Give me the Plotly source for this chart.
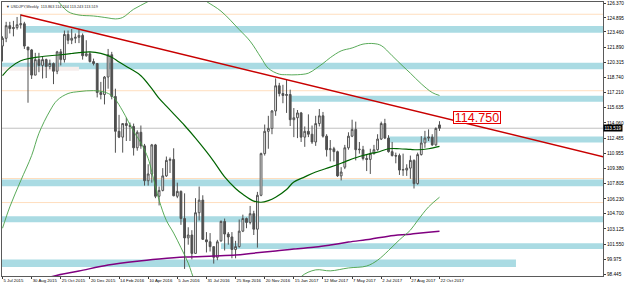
import plotly.graph_objects as go

# ---------------- data ----------------
symbol_title = "USDJPY,Weekly  113.863 114.244 113.243 113.519"

tick_bars = [0, 8, 16, 24, 32, 40, 48, 56, 64, 72, 80, 88, 96, 104, 112, 120]
tick_labels = ["5 Jul 2015", "30 Aug 2015", "25 Oct 2015", "20 Dec 2015", "14 Feb 2016",
               "10 Apr 2016", "5 Jun 2016", "31 Jul 2016", "25 Sep 2016", "20 Nov 2016",
               "15 Jan 2017", "12 Mar 2017", "7 May 2017", "2 Jul 2017", "27 Aug 2017",
               "22 Oct 2017"]

price_ticks = [126.370, 124.895, 123.460, 121.890, 120.315, 118.740, 117.210, 115.635,
               114.060, 112.485, 110.955, 109.380, 107.805, 106.230, 104.700, 103.125,
               101.550, 99.975, 98.445]

opens = [122.0, 122.8, 124.1, 123.8, 123.9, 124.2, 124.3, 121.9, 121.6, 119.0,
         120.6, 120.0, 120.6, 119.9, 120.2, 119.4, 121.4, 120.6, 123.2, 122.6,
         122.8, 122.9, 123.1, 121.0, 121.2, 120.4, 120.2, 117.2, 117.0, 118.8,
         121.1, 116.8, 113.2, 112.6, 114.0, 113.8, 113.7, 111.5, 113.1, 111.7,
         108.1, 108.8, 111.8, 106.5, 107.1, 108.6, 110.2, 110.3, 106.5, 107.0,
         104.2, 102.2, 102.5, 100.6, 104.8, 106.1, 102.0, 101.8, 101.3, 100.2,
         101.9, 103.9, 102.6, 102.3, 101.0, 101.3, 102.9, 104.2, 103.8, 104.7,
         103.1, 106.6, 110.9, 113.2, 113.5, 115.3, 117.9, 117.1, 116.9, 117.0,
         114.4, 114.6, 115.1, 112.6, 113.2, 112.9, 112.1, 114.0, 114.8, 112.7,
         111.3, 111.4, 111.1, 108.6, 109.5, 111.5, 112.7, 113.4, 111.3, 111.3,
         110.4, 110.3, 110.9, 111.3, 112.4, 114.0, 112.5, 111.1, 110.7, 110.7,
         109.2, 109.2, 109.4, 110.2, 107.8, 110.8, 112.0, 112.5, 112.6, 111.8,
         113.863]
highs = [123.0, 124.5, 124.5, 124.6, 125.0, 125.28, 124.5, 121.8, 121.7, 121.3,
         121.3, 120.9, 120.7, 120.6, 120.3, 121.5, 121.7, 123.6, 123.6, 123.76,
         123.3, 123.7, 123.3, 122.6, 121.4, 120.7, 120.2, 118.3, 118.9, 121.7,
         121.4, 117.6, 114.9, 114.0, 114.6, 114.1, 114.0, 113.3, 113.8, 111.9,
         109.8, 111.9, 111.9, 107.5, 109.4, 110.6, 110.5, 111.45, 107.9, 107.1,
         106.8, 103.3, 103.0, 106.3, 107.5, 106.6, 102.8, 102.7, 101.3, 102.0,
         104.0, 104.2, 102.8, 102.8, 101.9, 104.1, 104.6, 104.3, 105.5, 105.0,
         106.95, 111.0, 113.9, 114.8, 115.4, 118.66, 118.2, 118.0, 118.6, 117.5,
         115.6, 115.4, 115.2, 113.7, 114.95, 113.8, 114.8, 115.5, 115.2, 112.9,
         112.3, 111.6, 111.2, 109.5, 111.8, 113.1, 114.4, 114.2, 112.1, 111.7,
         110.8, 111.4, 111.8, 112.9, 114.2, 114.49, 112.8, 112.1, 111.0, 110.9,
         110.9, 109.8, 110.7, 110.3, 111.0, 112.7, 113.25, 113.4, 112.9, 113.6,
         114.244]
lows = [120.41, 122.4, 123.3, 123.0, 123.7, 123.8, 121.7, 116.15, 118.6, 119.0,
        119.3, 118.65, 118.7, 119.6, 118.07, 119.1, 120.0, 120.3, 122.2, 122.2,
        122.3, 122.3, 120.6, 120.9, 120.3, 120.0, 116.7, 116.5, 115.98, 117.6,
        116.5, 110.99, 112.5, 111.0, 112.2, 112.2, 110.7, 111.2, 111.4, 107.6,
        107.6, 107.9, 106.3, 105.55, 107.0, 108.5, 108.9, 106.5, 106.3, 103.55,
        99.0, 101.5, 99.99, 100.6, 104.0, 102.0, 100.7, 100.8, 99.55, 99.9,
        101.8, 100.9, 101.5, 100.1, 100.1, 101.2, 102.8, 103.2, 103.6, 102.5,
        101.2, 106.5, 110.7, 111.4, 112.9, 114.8, 116.8, 116.1, 115.1, 113.75,
        112.6, 112.5, 112.1, 111.6, 112.6, 111.9, 111.7, 113.7, 112.55, 110.6,
        110.1, 110.1, 108.5, 108.13, 109.3, 111.3, 112.6, 110.2, 110.9, 110.2,
        109.1, 108.8, 110.8, 111.2, 112.3, 112.4, 111.0, 110.6, 109.9, 108.7,
        108.6, 108.6, 108.3, 107.3, 107.7, 110.7, 111.5, 112.2, 111.7, 111.7,
        113.243]
closes = [122.8, 124.1, 123.8, 123.9, 124.2, 124.3, 122.0, 121.6, 119.0, 120.6,
          120.0, 120.6, 119.9, 120.2, 119.4, 121.4, 120.6, 123.2, 122.6, 122.8,
          122.9, 123.1, 121.0, 121.2, 120.4, 120.2, 117.2, 117.0, 118.8, 121.1,
          116.8, 113.2, 112.6, 114.0, 113.8, 113.7, 111.5, 113.1, 111.7, 108.1,
          108.8, 111.8, 106.5, 107.1, 108.6, 110.2, 110.3, 106.55, 107.0, 104.2,
          102.2, 102.5, 100.6, 104.8, 106.1, 102.05, 101.8, 101.3, 100.2, 101.8,
          103.9, 102.6, 102.3, 101.0, 101.3, 102.9, 104.2, 103.8, 104.7, 103.1,
          106.6, 110.9, 113.2, 113.5, 115.3, 117.9, 117.1, 116.9, 117.0, 114.4,
          114.6, 115.1, 112.6, 113.2, 112.9, 112.1, 114.0, 114.8, 112.7, 111.3,
          111.4, 111.1, 108.6, 109.0, 111.5, 112.7, 113.4, 111.3, 111.35, 110.4,
          110.3, 110.9, 111.3, 112.4, 114.0, 112.5, 111.1, 110.7, 110.65, 109.2,
          109.25, 109.4, 110.2, 107.8, 110.8, 112.0, 112.5, 112.6, 111.8, 113.5,
          113.519]
bars = list(range(len(closes)))

# Bollinger middle line
mid_bars = [0, 2, 5, 8, 10, 13, 16, 19, 21, 24, 27, 30, 32, 35, 38, 41, 43, 45, 47, 50,
            53, 56, 58, 61, 64, 66, 69, 71, 73, 75, 78, 80, 83, 86, 90, 93, 95, 98, 101,
            103, 106, 109, 112, 114, 117, 120]
mid_vals = [118.94, 119.75, 120.48, 120.76, 120.87, 121.0, 121.1, 121.23, 121.32, 121.4,
            121.25, 120.85, 120.35, 119.68, 118.94, 117.6, 116.6, 115.8, 115.0, 113.8,
            112.5, 111.1, 110.1, 108.5, 107.3, 106.7, 106.0, 105.88, 106.05, 106.4,
            107.2, 107.97, 108.5, 109.0, 109.5, 109.9, 110.2, 110.6, 110.9, 111.05,
            111.4, 111.4, 111.33, 111.3, 111.4, 111.64]

up_bars = [0, 6, 12, 15, 18, 21, 25, 29, 31, 33, 36, 40, 44, 48, 52, 56, 60, 65, 68, 71,
           73, 76, 78, 81, 84, 86, 88, 90, 93, 96, 99, 102, 104, 107, 110, 112, 115,
           118, 120]
up_vals = [131.0, 129.5, 127.6, 126.7, 125.55, 125.2, 125.1, 124.9, 124.8, 124.95,
           125.8, 126.6, 127.6, 128.2, 127.6, 126.6, 125.6, 123.7, 122.5, 120.8,
           119.7, 119.1, 119.04, 119.04, 119.2, 119.66, 120.2, 120.8, 121.5, 121.8,
           122.2, 122.25, 122.05, 121.0, 119.9, 119.2, 118.1, 117.2, 116.9]

low_bars = [0, 2, 5, 8, 10, 13, 15, 18, 21, 25, 28, 30, 31, 33, 36, 38, 40, 41, 43, 45,
            47, 49, 51, 53, 58, 66, 74, 79, 82, 86, 90, 95, 100, 103, 106, 109, 112,
            114, 117, 120]
low_vals = [103.2, 105.4, 108.1, 110.7, 113.0, 115.3, 116.4, 117.1, 117.3, 117.4,
            117.25, 116.9, 116.5, 115.3, 113.2, 112.0, 110.4, 109.0, 106.1, 104.0,
            102.7, 101.2, 99.6, 97.6, 94.8, 93.6, 94.2, 96.3, 98.2, 98.9, 98.8, 99.1,
            99.3, 99.9, 100.9, 102.0, 103.0, 104.0, 105.4, 106.4]

ma_bars = [8, 14, 21, 29, 37, 43, 50, 58, 64, 69, 75, 80, 86, 90, 95, 101, 106, 112,
           117, 120]
ma_vals = [97.6, 98.25, 98.78, 99.4, 99.8, 100.02, 100.22, 100.33, 100.43, 100.63,
           100.84, 101.05, 101.25, 101.46, 101.77, 102.07, 102.38, 102.59, 102.79, 102.9]

# trendline anchors (Aug 2015 high, Dec 2016 high), extended right
trend_bars = [5, 75]
trend_prices = [125.2, 118.8]

# horizontal zones: (low, high, start bar, end bar or None = to the plot edge)
zones = [(123.36, 124.08, 6, None),
         (119.60, 120.27, None, None),
         (116.26, 116.88, 79, None),
         (112.05, 112.67, 106, None),
         (107.52, 108.24, None, None),
         (103.82, 104.44, None, None),
         (101.05, 101.66, 60, None),
         (99.20, 99.98, None, 141)]
pale_zone = (119.45, 119.86, None, 21)
level_lines = [125.28, 117.39, 108.33, 105.85]
bid_price = 113.519
label_text = "114.750"
label_bar = 130.3
label_price = 114.62

# ---------------- figure ----------------
X_MIN, X_MAX = -0.14, 164.9
Y_MIN, Y_MAX = 98.27, 126.545
ZONE_COLOR = "rgb(170,219,227)"
LEVEL_COLOR = "rgb(255,222,190)"

fig = go.Figure()

shapes = []
for lo, hi, b0, b1 in zones:
    shapes.append(dict(type="rect", layer="below", line_width=0, fillcolor=ZONE_COLOR,
                       xref="x", yref="y",
                       x0=X_MIN - 5 if b0 is None else b0,
                       x1=X_MAX + 5 if b1 is None else b1,
                       y0=lo, y1=hi))
lo, hi, b0, b1 = pale_zone
shapes.append(dict(type="rect", layer="below", line_width=0, fillcolor="rgb(246,238,236)",
                   xref="x", yref="y", x0=X_MIN - 5, x1=b1, y0=lo, y1=hi))
for lv in level_lines:
    shapes.append(dict(type="line", layer="below", xref="paper", yref="y", x0=0, x1=1,
                       y0=lv, y1=lv, line=dict(color=LEVEL_COLOR, width=1)))
shapes.append(dict(type="line", layer="below", xref="paper", yref="y", x0=0, x1=1,
                   y0=bid_price, y1=bid_price, line=dict(color="rgb(192,192,192)", width=1)))

# trendline extended to the right edge of the plot
slope = (trend_prices[1] - trend_prices[0]) / (trend_bars[1] - trend_bars[0])
t_end = trend_prices[0] + slope * (X_MAX + 2 - trend_bars[0])

fig.add_trace(go.Scatter(x=ma_bars, y=ma_vals, mode="lines", line=dict(color="rgb(128,0,128)", width=1.5),
                         line_shape="spline", hoverinfo="skip", showlegend=False))
fig.add_trace(go.Scatter(x=up_bars, y=up_vals, mode="lines", line=dict(color="rgb(70,160,70)", width=0.9),
                         line_shape="spline", hoverinfo="skip", showlegend=False))
fig.add_trace(go.Scatter(x=low_bars, y=low_vals, mode="lines", line=dict(color="rgb(70,160,70)", width=0.9),
                         line_shape="spline", hoverinfo="skip", showlegend=False))
fig.add_trace(go.Scatter(x=mid_bars, y=mid_vals, mode="lines", line=dict(color="rgb(0,100,0)", width=1.2),
                         line_shape="spline", hoverinfo="skip", showlegend=False))
fig.add_trace(go.Scatter(x=[trend_bars[0], X_MAX + 2], y=[trend_prices[0], t_end], mode="lines",
                         line=dict(color="rgb(200,0,0)", width=1.4), hoverinfo="skip", showlegend=False))

fig.add_trace(go.Candlestick(
    x=bars, open=opens, high=highs, low=lows, close=closes,
    increasing=dict(fillcolor="white", line=dict(color="rgb(80,80,80)", width=1)),
    decreasing=dict(fillcolor="rgb(80,80,80)", line=dict(color="rgb(80,80,80)", width=1)),
    whiskerwidth=0, showlegend=False))

fig.update_layout(
    width=625, height=286,
    margin=dict(l=1, r=20, t=1, b=10),
    paper_bgcolor="white", plot_bgcolor="white",
    shapes=shapes,
    showlegend=False,
    font=dict(family="Liberation Sans, Arial, sans-serif", color="black"),
    xaxis=dict(range=[X_MIN, X_MAX], rangeslider=dict(visible=False), showgrid=False,
               zeroline=False, showline=True, linecolor="rgb(90,90,90)", linewidth=1, mirror=True,
               tickmode="array", tickvals=tick_bars, ticktext=tick_labels, tickangle=0,
               ticks="outside", ticklen=2, tickcolor="rgb(60,60,60)",
               ticklabelposition="outside right", tickfont=dict(size=4.3)),
    yaxis=dict(range=[Y_MIN, Y_MAX], side="right", showgrid=False, zeroline=False,
               showline=True, linecolor="rgb(90,90,90)", linewidth=1, mirror=True,
               tickmode="array", tickvals=price_ticks,
               ticktext=[f"{v:.3f}" for v in price_ticks],
               ticks="outside", ticklen=2, tickcolor="rgb(60,60,60)",
               tickfont=dict(size=4.7)),
    annotations=[
        dict(xref="paper", yref="paper", x=0.004, y=0.995, xanchor="left", yanchor="top",
             text="\u25bc " + symbol_title, showarrow=False,
             font=dict(size=3.8, color="rgb(40,40,40)")),
        dict(xref="x", yref="y", x=label_bar, y=label_price, text=label_text, showarrow=False,
             font=dict(size=12.5, color="rgb(230,0,0)"), bgcolor="white",
             bordercolor="rgb(230,0,0)", borderwidth=1, borderpad=0, width=46, height=11),
        dict(xref="paper", yref="y", x=1.0, y=bid_price, xanchor="left", text=f"{bid_price:.3f}",
             showarrow=False, font=dict(size=4.7, color="white"), bgcolor="black", borderpad=0.5),
    ],
)

fig.write_html("out.html")
